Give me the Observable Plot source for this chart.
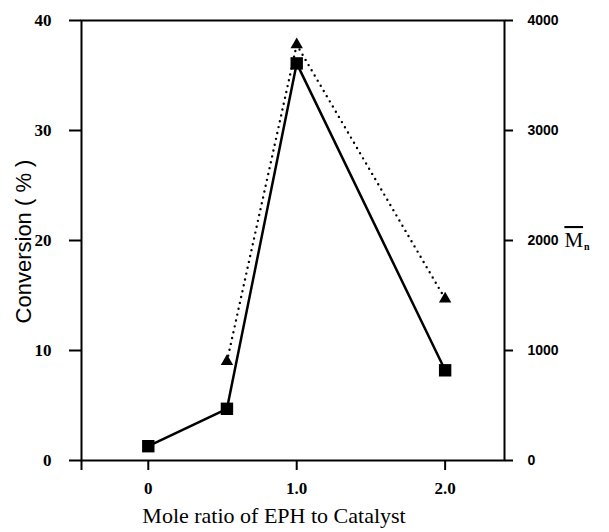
<!DOCTYPE html>
<html>
<head>
<meta charset="utf-8">
<script src="https://cdn.jsdelivr.net/npm/d3@7"></script>
<script src="https://cdn.jsdelivr.net/npm/@observablehq/plot@0.6"></script>
<style>
  html, body { margin: 0; padding: 0; background: #fff; }
  #chart { width: 609px; height: 532px; }
</style>
</head>
<body>
<div id="chart"></div>
<script>
// Data
const ratio = [0, 0.53, 1.0, 2.0];          // mole ratio EPH : catalyst
const conversion = [1.3, 4.7, 36.1, 8.2];   // conversion (%), left axis
const mnRatio = [0.53, 1.0, 2.0];
const mn = [900, 3780, 1470];               // Mn, right axis

const xTicks = [0, 1.0, 2.0];
const xTickLabels = ["0", "1.0", "2.0"];
const yTicks = [0, 10, 20, 30, 40];
const mnTicks = [0, 1000, 2000, 3000, 4000];

const xDomain = [-0.45, 2.4];
const yDomain = [0, 40];
const mnPerUnit = 100; // 4000 on the right axis == 40 on the left axis

const convData = ratio.map((r, i) => ({x: r, y: conversion[i]}));
const mnData = mnRatio.map((r, i) => ({x: r, y: mn[i] / mnPerUnit}));
const xLabelData = xTicks.map((t, i) => ({x: t, label: xTickLabels[i]}));
const mnLabelData = mnTicks.map(v => ({y: v / mnPerUnit, label: String(v)}));

const serif = "Liberation Serif, Times New Roman, serif";
const sans = "Liberation Sans, Arial, sans-serif";

const plot = Plot.plot({
  width: 609,
  height: 532,
  marginLeft: 81,
  marginRight: 105,
  marginTop: 20,
  marginBottom: 72,
  style: {background: "#fff", color: "#000"},
  x: {domain: xDomain},
  y: {domain: yDomain},
  marks: [
    Plot.frame({stroke: "#000", strokeWidth: 2}),
    // tick marks
    Plot.axisY({anchor: "left", ticks: yTicks, tickSize: 12, text: null, label: null, strokeWidth: 2}),
    Plot.axisY({anchor: "right", ticks: mnTicks.map(v => v / mnPerUnit), tickSize: 8, text: null, label: null, strokeWidth: 2}),
    Plot.axisX({anchor: "bottom", ticks: [xDomain[0], ...xTicks], tickSize: 10, text: null, label: null, strokeWidth: 2}),
    // tick labels
    Plot.text(yTicks, {
      y: d => d, frameAnchor: "left", dx: -30, textAnchor: "end",
      text: d => String(d), fontFamily: serif, fontSize: 17, fontWeight: "bold", fill: "#000"
    }),
    Plot.text(mnLabelData, {
      y: "y", frameAnchor: "right", dx: 23, textAnchor: "start",
      text: "label", fontFamily: sans, fontSize: 14, fontWeight: "bold", fill: "#000"
    }),
    Plot.text(xLabelData, {
      x: "x", frameAnchor: "bottom", dy: 33, text: "label",
      fontFamily: serif, fontSize: 17, fontWeight: "bold", fill: "#000"
    }),
    // Mn dotted line + triangles
    Plot.line(mnData, {x: "x", y: "y", stroke: "#000", strokeWidth: 2.4, strokeDasharray: "0,6", strokeLinecap: "round"}),
    Plot.dot(mnData, {x: "x", y: "y", symbol: "triangle", r: 4.6, fill: "#000", stroke: "none"}),
    // conversion solid line + squares
    Plot.line(convData, {x: "x", y: "y", stroke: "#000", strokeWidth: 2.5}),
    Plot.dot(convData, {x: "x", y: "y", symbol: "square", r: 7, fill: "#000", stroke: "none"}),
    // axis titles
    Plot.text(["Conversion ( % )"], {
      frameAnchor: "left", textAnchor: "middle", rotate: -90, dx: -58, dy: 1,
      fontFamily: sans, fontSize: 22, fill: "#000"
    }),
    Plot.text(["Mole ratio of EPH to Catalyst"], {
      frameAnchor: "bottom", dy: 62, dx: -19,
      fontFamily: serif, fontSize: 22, fill: "#000"
    })
  ]
});

document.getElementById("chart").appendChild(plot);

// Right-axis title: M with overline and subscript n
const svg = d3.select(plot);
const t = svg.append("text")
  .attr("x", 577)
  .attr("y", 247)
  .attr("font-family", serif)
  .attr("font-size", 21)
  .style("fill", "#000");
t.append("tspan").text("M").style("text-decoration", "overline").style("fill", "#000");
t.append("tspan").text("n").attr("font-size", 10).attr("font-weight", "bold").attr("dx", 1).attr("dy", 3).style("fill", "#000");
</script>
</body>
</html>
